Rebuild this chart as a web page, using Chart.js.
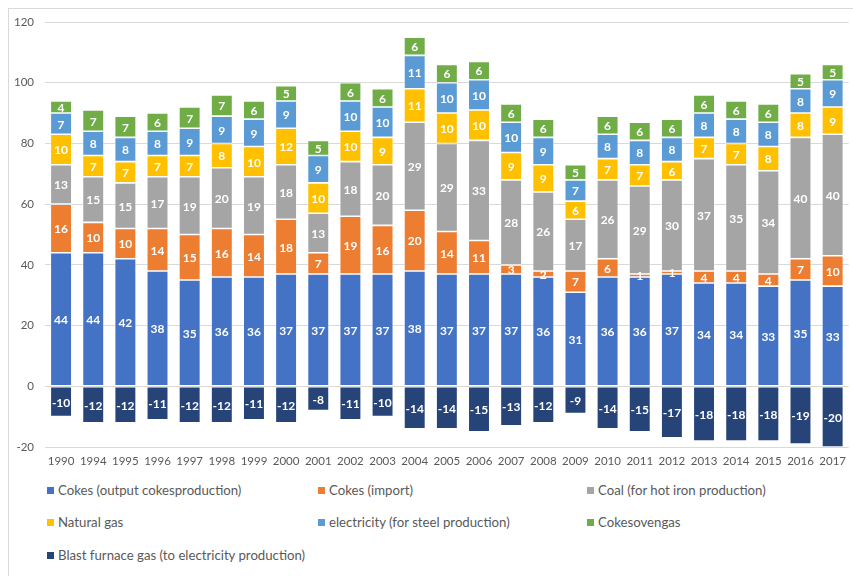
<!DOCTYPE html>
<html><head><meta charset="utf-8">
<script src="https://cdn.jsdelivr.net/npm/chart.js@4/dist/chart.umd.min.js"></script>
<style>
html,body{margin:0;padding:0;background:#fff;}
#wrap{position:relative;width:853px;height:576px;overflow:hidden;}
#frame{position:absolute;left:8px;top:8px;width:900px;height:600px;border-left:1px solid #d9d9d9;border-top:1px solid #d9d9d9;}
#c{position:absolute;left:0;top:0;}
.lg{position:absolute;font-family:Lato,"Open Sans",sans-serif;font-size:13.2px;color:#595959;white-space:nowrap;line-height:15px;}
.lg span{display:inline-block;width:7px;height:7px;margin-right:4px;vertical-align:1px;}
</style></head>
<body><div id="wrap"><div id="frame"></div><canvas id="c" width="853" height="476"></canvas><div id="legend"></div></div>
<script>
const years = ['1990','1994','1995','1996','1997','1998','1999','2000','2001','2002','2003','2004','2005','2006','2007','2008','2009','2010','2011','2012','2013','2014','2015','2016','2017'];
const cokesOutput = [44,44,42,38,35,36,36,37,37,37,37,38,37,37,37,36,31,36,36,37,34,34,33,35,33];
const cokesImport = [16,10,10,14,15,16,14,18,7,19,16,20,14,11,3,2,7,6,1,1,4,4,4,7,10];
const coal = [13,15,15,17,19,20,19,18,13,18,20,29,29,33,28,26,17,26,29,30,37,35,34,40,40];
const naturalGas = [10,7,7,7,7,8,10,12,10,10,9,11,10,10,9,9,6,7,7,6,7,7,8,8,9];
const electricity = [7,8,8,8,9,9,9,9,9,10,10,11,10,10,10,9,7,8,8,8,8,8,8,8,9];
const cokesovengas = [4,7,7,6,7,7,6,5,5,6,6,6,6,6,6,6,5,6,6,6,6,6,6,5,5];
const blastFurnaceGas = [-10,-12,-12,-11,-12,-12,-11,-12,-8,-11,-10,-14,-14,-15,-13,-12,-9,-14,-15,-17,-18,-18,-18,-19,-20];
const yTicks = [-20,0,20,40,60,80,100,120];

const series = [
  ['Cokes (output cokesproduction)', cokesOutput, '#4472C4'],
  ['Cokes (import)', cokesImport, '#ED7D31'],
  ['Coal (for hot iron production)', coal, '#A5A5A5'],
  ['Natural gas', naturalGas, '#FFC000'],
  ['electricity (for steel production)', electricity, '#5B9BD5'],
  ['Cokesovengas', cokesovengas, '#70AD47'],
  ['Blast furnace gas (to electricity production)', blastFurnaceGas, '#264478']
];

const labelPlugin = {
  id: 'segLabels',
  afterDatasetsDraw(chart) {
    const ctx = chart.ctx;
    ctx.save();
    ctx.font = 'bold 12px Lato, "Open Sans", sans-serif';
    ctx.fillStyle = '#ffffff';
    ctx.textAlign = 'center';
    ctx.textBaseline = 'middle';
    chart.data.datasets.forEach((ds, i) => {
      const meta = chart.getDatasetMeta(i);
      meta.data.forEach((bar, j) => {
        const v = ds.data[j];
        const cy = (bar.y + bar.base) / 2;
        ctx.fillText(String(v), bar.x, cy + 1);
      });
    });
    ctx.restore();
  }
};

new Chart(document.getElementById('c'), {
  type: 'bar',
  data: {
    labels: years,
    datasets: series.map(s => ({
      label: s[0], data: s[1], backgroundColor: s[2],
      borderColor: 'rgba(255,255,255,0.55)', borderWidth: 0.8, borderSkipped: false,
      stack: 'a', barPercentage: 0.67, categoryPercentage: 1.0
    }))
  },
  options: {
    responsive: false, animation: false,
    layout: { padding: { top: 22, right: 1, left: 0, bottom: 0 } },
    plugins: { legend: { display: false }, tooltip: { enabled: false } },
    scales: {
      x: {
        stacked: true,
        grid: { display: false, drawTicks: false },
        border: { display: false },
        ticks: { color: '#595959', font: { family: 'Lato, "Open Sans", sans-serif', size: 11.5 }, padding: 7, maxRotation: 0, autoSkip: false },
        afterFit(s) { s.height = 29; }
      },
      y: {
        stacked: true, min: -20, max: 120,
        afterBuildTicks(s) { s.ticks = yTicks.map(v => ({ value: v })); },
        grid: { color: '#d9d9d9', drawTicks: false, lineWidth: 1 },
        border: { display: false },
        ticks: { color: '#595959', font: { family: 'Lato, "Open Sans", sans-serif', size: 11.5 }, padding: 11 },
        afterFit(s) { s.width = 45; }
      }
    }
  },
  plugins: [labelPlugin]
});

// HTML legend built from the series
const legendPos = [[47,483],[318,483],[587,483],[47,515],[318,515],[587,515],[47,548]];
const lg = document.getElementById('legend');
series.forEach((s, i) => {
  const d = document.createElement('div');
  d.className = 'lg';
  d.style.left = legendPos[i][0] + 'px';
  d.style.top = legendPos[i][1] + 'px';
  d.innerHTML = '<span style="background:' + s[2] + '"></span>' + s[0];
  lg.appendChild(d);
});
</script></body></html>
